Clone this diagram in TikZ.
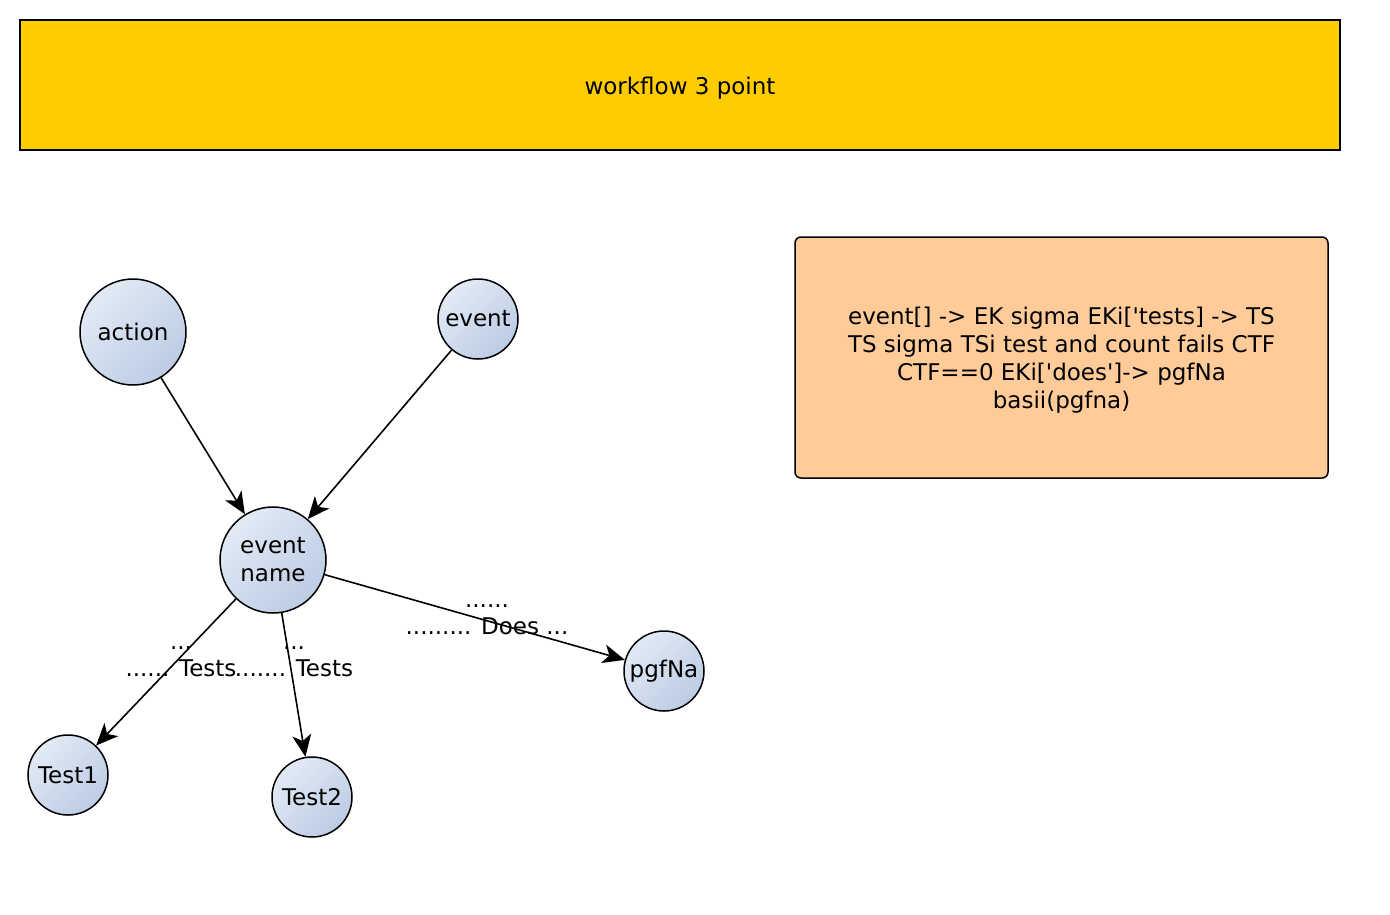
\documentclass[tikz,border=0pt]{standalone}
\usepackage{fontspec}
\setmainfont{DejaVu Sans}
\usetikzlibrary{arrows.meta}
\definecolor{barfill}{HTML}{FFCC00}
\definecolor{notefill}{HTML}{FFCC99}
\definecolor{circlight}{HTML}{E2EAF5}
\definecolor{circdark}{HTML}{BCCCE4}
\newcommand{\sq}{\textquotesingle}
\tikzset{
  every node/.style={font=\fontsize{23}{28}\selectfont},
  circ/.style={circle, draw=black, line width=1.5pt, inner sep=0pt,
    top color=circlight, bottom color=circdark, shading angle=45, align=center},
  big/.style={circ, minimum size=106pt},
  small/.style={circ, minimum size=80pt},
  conn/.style={line width=1.6pt, -{Stealth[length=22pt,width=19pt,inset=6pt]}},
  elabel/.style={align=center, inner sep=0pt, font=\fontsize{23}{27}\selectfont}
}
\begin{document}
\begin{tikzpicture}[x=1pt,y=-1pt]
\useasboundingbox (0,0) rectangle (1390,914);
\node[draw=black, line width=2pt, fill=barfill, minimum width=1320pt, minimum height=130pt, inner sep=0pt, text height=20pt, text depth=2pt] (bar) at (680,85) {workflow 3 point};
\node[draw=black, line width=1.5pt, fill=notefill, rounded corners=6pt, minimum width=533pt, minimum height=241pt, inner sep=0pt] (note) at (1061.5,357.5) {\raisebox{-3pt}[\height][\depth]{\begin{tabular}{@{}c@{}}event[] -> EK sigma EKi[\sq tests] -> TS\\TS sigma TSi test and count fails CTF\\CTF==0 EKi[\sq does\sq]-> pgfNa\\basii(pgfna)\end{tabular}}};
\node[big] (action) at (133,332) {action};
\node[small] (event) at (478,319) {event};
\node[big] (ename) at (273,560) {event\\name};
\node[small] (pgfna) at (664,671) {pgfNa};
\node[small] (test1) at (68,775) {Test1};
\node[small] (test2) at (312,797) {Test2};
\draw[conn] (action) -- (ename);
\draw[conn] (event) -- (ename);
\draw[conn] (ename) -- (test1);
\draw[conn] (ename) -- (test2);
\draw[conn] (ename) -- (pgfna);
\node[elabel] (l1) at (181,662) {...\\...... Tests};
\node[elabel] (l2) at (294,662) {...\\....... Tests};
\node[elabel] (l3) at (487,620) {......\\......... Does ...};
\end{tikzpicture}
\end{document}
